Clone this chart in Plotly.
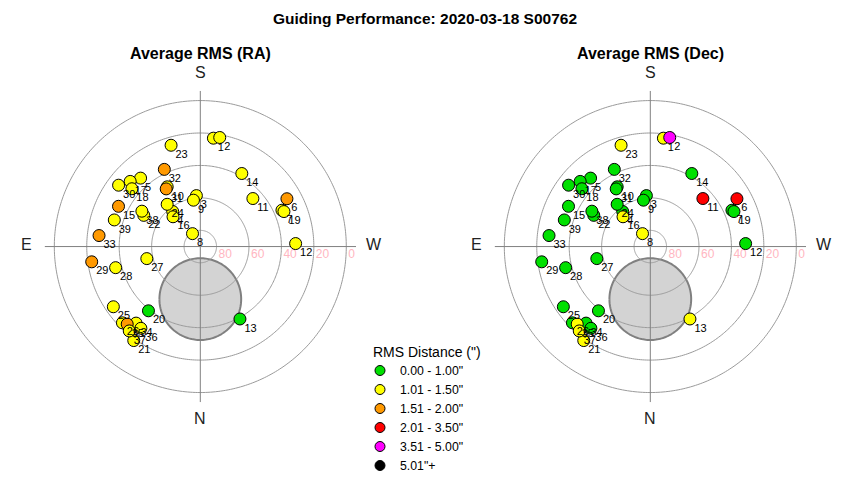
import numpy as np
import plotly.graph_objects as go

# ---- data ----
labels = [str(i) for i in range(1, 40)]
altitude = [22.7, 21.7, 58.5, 62.5, 34.0, 29.0, 34.9, 80.7, 61.1, 47.9,
            46.1, 31.2, 39.1, 38.2, 33.8, 65.1, 31.0, 34.8, 34.1, 39.1,
            19.0, 50.2, 25.0, 56.9, 24.8, 22.8, 56.2, 36.2, 22.4, 27.0,
            48.7, 37.5, 27.2, 28.4, 24.3, 27.7, 22.0, 47.9, 34.5]
azimuth = [186.9, 190.1, 175.6, 141.8, 138.9, 241.1, 246.0, 148.9, 171.6, 151.0,
           227.6, 268.2, 331.3, 209.6, 116.2, 137.5, 132.9, 130.2, 247.3, 38.9,
           35.3, 118.9, 163.9, 141.9, 55.3, 45.6, 77.3, 76.0, 82.0, 126.9,
           149.4, 155.0, 96.2, 40.0, 43.3, 36.0, 40.1, 121.2, 107.2]
# RMS bin index per point (0: 0.00-1.00, 1: 1.01-1.50, 2: 1.51-2.00, 3: 2.01-3.50, 4: 3.51-5.00, 5: 5.01+)
ra_bin = [1, 1, 1, 1, 1, 2, 1, 1, 1, 1,
          1, 1, 0, 1, 2, 1, 1, 1, 1, 0,
          1, 1, 1, 1, 1, 1, 1, 1, 2, 1,
          2, 2, 2, 1, 2, 1, 1, 1, 1]
dec_bin = [1, 4, 0, 0, 0, 3, 0, 1, 0, 0,
           3, 0, 1, 0, 0, 1, 0, 0, 0, 0,
           1, 0, 1, 0, 0, 0, 0, 0, 0, 0,
           0, 0, 0, 0, 1, 0, 1, 0, 0]
bin_names = ['0.00 - 1.00"', '1.01 - 1.50"', '1.51 - 2.00"', '2.01 - 3.50"', '3.51 - 5.00"', '5.01"+']
bin_colors = ['#00e000', '#ffff00', '#ff9900', '#ff0000', '#ff00ff', '#000000']
ring_alts = [80, 60, 40, 20, 0]
ring_labels = ['80', '60', '40', '20', '0']
compass = ['S', 'N', 'E', 'W']
# shaded region: centre altitude / azimuth and angular radius
disk_alt, disk_az, disk_radius = 57.6, 0.0, 25.2

R_MAX = 96

fig = go.Figure()

def zd(alt):
    return 90 - np.asarray(alt, dtype=float)

def add_panel(sub, bins):
    # shaded disk
    t = np.linspace(0, 2 * np.pi, 181)
    c_r = 90 - disk_alt
    cx = c_r * np.sin(np.radians(disk_az))
    cy_ = c_r * np.cos(np.radians(disk_az))
    px = cx + disk_radius * np.cos(t)
    py = cy_ + disk_radius * np.sin(t)
    fig.add_trace(go.Scatterpolar(
        r=np.hypot(px, py), theta=np.degrees(np.arctan2(px, py)) % 360,
        mode='lines', fill='toself', fillcolor='#d3d3d3',
        line=dict(color='#808080', width=2), subplot=sub,
        showlegend=False, hoverinfo='skip'))
    # altitude rings
    th = np.linspace(0, 360, 361)
    for a in ring_alts:
        fig.add_trace(go.Scatterpolar(
            r=np.full_like(th, 90 - a), theta=th, mode='lines',
            line=dict(color='#9a9a9a', width=1), subplot=sub,
            showlegend=False, hoverinfo='skip'))
    # cross hairs
    for a, b in [(0, 180), (90, 270)]:
        fig.add_trace(go.Scatterpolar(
            r=[R_MAX, 0, R_MAX], theta=[a, a, b], mode='lines',
            line=dict(color='#808080', width=1), subplot=sub,
            showlegend=False, hoverinfo='skip'))
    # ring labels
    fig.add_trace(go.Scatterpolar(
        r=zd(ring_alts), theta=[270] * len(ring_alts), mode='markers+text',
        marker=dict(size=1.6, color='rgba(0,0,0,0)'),
        text=ring_labels, textposition='bottom right',
        textfont=dict(color='#ffb6c1', size=12, family='Arial'),
        subplot=sub, showlegend=False, hoverinfo='skip'))
    # points
    fig.add_trace(go.Scatterpolar(
        r=zd(altitude), theta=azimuth, mode='markers',
        marker=dict(size=12, color=[bin_colors[b] for b in bins],
                    line=dict(color='black', width=1)),
        subplot=sub, showlegend=False))
    # point labels
    fig.add_trace(go.Scatterpolar(
        r=zd(altitude), theta=azimuth, mode='markers+text',
        marker=dict(size=5.5, color='rgba(0,0,0,0)'),
        text=labels, textposition='bottom right',
        textfont=dict(color='black', size=11, family='Arial'),
        subplot=sub, showlegend=False, hoverinfo='skip'))

add_panel('polar', ra_bin)
add_panel('polar2', dec_bin)

# legend entries
for name, col in zip(bin_names, bin_colors):
    fig.add_trace(go.Scatterpolar(
        r=[None], theta=[None], mode='markers', name=name,
        marker=dict(size=10, color=col, line=dict(color='black', width=1)),
        subplot='polar'))

polar_common = dict(
    bgcolor='white',
    radialaxis=dict(visible=False, range=[0, R_MAX]),
    angularaxis=dict(rotation=270, direction='clockwise', showgrid=False,
                     showline=False, ticks='', showticklabels=False),
)

# the captured picture is slightly squeezed vertically (factor SQ),
# so vertical target positions are divided by SQ
SQ = 0.975
FW, FH = 850, 480


def X(px):
    return px / FW


def Y(py):
    return 1 - (py / SQ) / FH


cy = 250.3                # centre of each sky chart (picture px)
ring_px = 152             # radius of the 0-deg ring (page px)
half = R_MAX * ring_px / 90
centers = [200.3, 650.3]
offsets = {'S': (0, -177), 'N': (0, 175), 'E': (-174, -2), 'W': (174, -2)}


def dom(c):
    ycv = cy / SQ
    return dict(x=[X(c - half), X(c + half)],
                y=[1 - (ycv + half) / FH, 1 - (ycv - half) / FH])


annotations = [
    dict(text='<b>Average RMS (RA)</b>', x=X(centers[0]), y=Y(54), xref='paper', yref='paper',
         showarrow=False, font=dict(size=16, family='Arial'), xanchor='center', yanchor='middle'),
    dict(text='<b>Average RMS (Dec)</b>', x=X(centers[1]), y=Y(54), xref='paper', yref='paper',
         showarrow=False, font=dict(size=16, family='Arial'), xanchor='center', yanchor='middle'),
    dict(text='RMS Distance (")', x=X(427), y=Y(357), xref='paper', yref='paper',
         showarrow=False, font=dict(size=14, family='Arial'), xanchor='center', yanchor='middle'),
]
for c in centers:
    for d in compass:
        ox, oy = offsets[d]
        annotations.append(dict(text=d, x=X(c + ox), y=Y(cy + oy), xref='paper', yref='paper',
                                showarrow=False, font=dict(size=16, family='Arial', color='#222'),
                                xanchor='center', yanchor='middle'))

fig.update_layout(
    width=FW, height=FH, autosize=False,
    margin=dict(l=0, r=0, t=0, b=0),
    paper_bgcolor='white', plot_bgcolor='white',
    font=dict(family='Arial', color='black'),
    hovermode=False,
    polar=dict(domain=dom(centers[0]), **polar_common),
    polar2=dict(domain=dom(centers[1]), **polar_common),
    title=dict(text='<b>Guiding Performance: 2020-03-18 S00762</b>', x=X(425), xanchor='center',
               y=Y(18), yanchor='middle', font=dict(size=15.5, family='Arial')),
    annotations=annotations,
    legend=dict(x=X(360), y=Y(361.7), xanchor='left', yanchor='top',
                font=dict(size=12.3), bgcolor='rgba(0,0,0,0)', tracegroupgap=0),
)

# the page body keeps no default margin, so the figure fills the window exactly
fig.write_html('out.html', config={'displayModeBar': False},
               post_script="document.body.style.margin='0';")
